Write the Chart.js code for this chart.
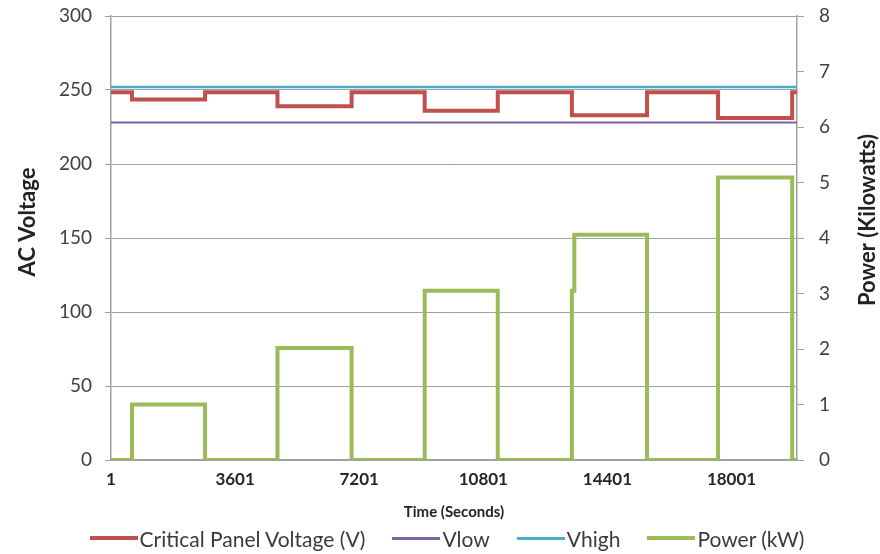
<!DOCTYPE html>
<html><head><meta charset="utf-8">
<script src="https://cdn.jsdelivr.net/npm/chart.js@4/dist/chart.umd.min.js"></script>
<style>
html,body{margin:0;padding:0;background:#fff;}
#wrap{position:relative;width:880px;height:554px;}
#legend{position:absolute;left:0;top:525px;width:880px;height:26px;display:flex;justify-content:center;align-items:center;gap:27px;font-family:Lato, sans-serif;font-size:21px;color:#3a3a3a;padding-left:14px;box-sizing:border-box;}
.item{display:flex;align-items:center;white-space:nowrap}
.sw{width:48px;margin-right:2px;}
</style></head>
<body><div id="wrap"><canvas id="c" width="880" height="554"></canvas><div id="legend"></div></div>
<script>
// ---- data ----
const tickValues = [1, 3601, 7201, 10801, 14401, 18001];
const timeMin = 1, timeMax = 19900;
const voltageTimes = [1, 610, 2730, 4830, 6980, 9100, 11220, 13370, 15550, 17610, 19760, 19900];
const panelVoltage = [248.5, 243.5, 248.5, 239, 248.5, 236, 248.5, 233, 248.5, 231, 248.5, 248.5];
const powerTimes = [1, 610, 2730, 4830, 6980, 9100, 11220, 13370, 13440, 15550, 17610, 19760, 19900];
const powerKW = [0, 1.0, 0, 2.02, 0, 3.05, 0, 3.05, 4.06, 0, 5.09, 0, 0];
const vLow = 228, vHigh = 252;
const seriesNames = ['Critical Panel Voltage (V)', 'Vlow', 'Vhigh', 'Power (kW)'];

const toPts = (xs, ys) => xs.map((x, i) => ({x: x, y: ys[i]}));
const FONT = 'Lato, sans-serif';

const axisTitles = {
  id: 'axisTitles',
  afterDraw(chart) {
    const ctx = chart.ctx, a = chart.chartArea;
    ctx.save();
    ctx.fillStyle = '#222';
    ctx.font = 'bold 22px ' + FONT;
    ctx.textAlign = 'center';
    ctx.textBaseline = 'middle';
    const cy = (a.top + a.bottom) / 2 - 16;
    ctx.translate(chart.scales.y.left + 12, cy);
    ctx.rotate(-Math.PI / 2);
    ctx.fillText('AC Voltage', 0, 0);
    ctx.restore();
    ctx.save();
    ctx.fillStyle = '#222';
    ctx.font = 'bold 22px ' + FONT;
    ctx.textAlign = 'center';
    ctx.textBaseline = 'middle';
    ctx.translate(chart.scales.y1.right - 12, cy - 2);
    ctx.rotate(-Math.PI / 2);
    ctx.fillText('Power (Kilowatts)', 0, 0);
    ctx.restore();
  }
};

const chart = new Chart(document.getElementById('c'), {
  type: 'line',
  data: {
    datasets: [
      {label: seriesNames[0], data: toPts(voltageTimes, panelVoltage), yAxisID: 'y', borderColor: '#C0504D', borderWidth: 4, stepped: true, pointRadius: 0, order: 4},
      {label: seriesNames[1], data: toPts([timeMin, timeMax], [vLow, vLow]), yAxisID: 'y', borderColor: '#8064A2', borderWidth: 2, pointRadius: 0, order: 3},
      {label: seriesNames[2], data: toPts([timeMin, timeMax], [vHigh, vHigh]), yAxisID: 'y', borderColor: '#4BACC6', borderWidth: 2.5, pointRadius: 0, order: 2},
      {label: seriesNames[3], data: toPts(powerTimes, powerKW), yAxisID: 'y1', borderColor: '#9BBB59', borderWidth: 4, stepped: true, pointRadius: 0, order: 1}
    ]
  },
  options: {
    responsive: false,
    animation: false,
    layout: {padding: {left: 16, right: 0, top: 16, bottom: 29}},
    plugins: {legend: {display: false}, tooltip: {enabled: false}},
    scales: {
      x: {
        type: 'linear', min: timeMin, max: timeMax,
        afterBuildTicks: s => { s.ticks = tickValues.map(v => ({value: v})); },
        ticks: {callback: v => String(v), font: {family: FONT, size: 17, weight: 'bold'}, color: '#262626', padding: 9, maxRotation: 0, autoSkip: false},
        grid: {display: false, drawTicks: false},
        border: {display: true, color: '#a0a0a0', width: 1.5},
        title: {display: true, text: 'Time (Seconds)', font: {family: FONT, size: 15, weight: 'bold'}, color: '#222', padding: {top: 4, bottom: 4}},
        afterFit: s => { s.height = 65; s.paddingLeft = 0; s.paddingRight = 0; }
      },
      y: {
        position: 'left', min: 0, max: 300,
        ticks: {stepSize: 50, font: {family: FONT, size: 19}, color: '#404040', padding: 13},
        grid: {display: true, drawOnChartArea: true, color: '#a0a0a0', lineWidth: 1, tickLength: 6},
        border: {display: true, color: '#a0a0a0', width: 1.5},
        afterFit: s => { s.width = 95; s.paddingTop = 0; s.paddingBottom = 0; }
      },
      y1: {
        position: 'right', min: 0, max: 8,
        ticks: {stepSize: 1, font: {family: FONT, size: 19}, color: '#404040', padding: 15},
        grid: {drawOnChartArea: false, color: '#a0a0a0', tickLength: 7},
        border: {display: true, color: '#a0a0a0', width: 1.5},
        afterFit: s => { s.width = 83; s.paddingTop = 0; s.paddingBottom = 0; }
      }
    }
  },
  plugins: [axisTitles]
});

// HTML legend built from the chart's datasets
const leg = document.getElementById('legend');
chart.data.datasets.forEach(ds => {
  const it = document.createElement('div'); it.className = 'item';
  const sw = document.createElement('span'); sw.className = 'sw';
  sw.style.height = Math.max(3, ds.borderWidth) + 'px'; sw.style.background = ds.borderColor;
  const tx = document.createElement('span'); tx.textContent = ds.label;
  it.appendChild(sw); it.appendChild(tx); leg.appendChild(it);
});
</script>
</body></html>
